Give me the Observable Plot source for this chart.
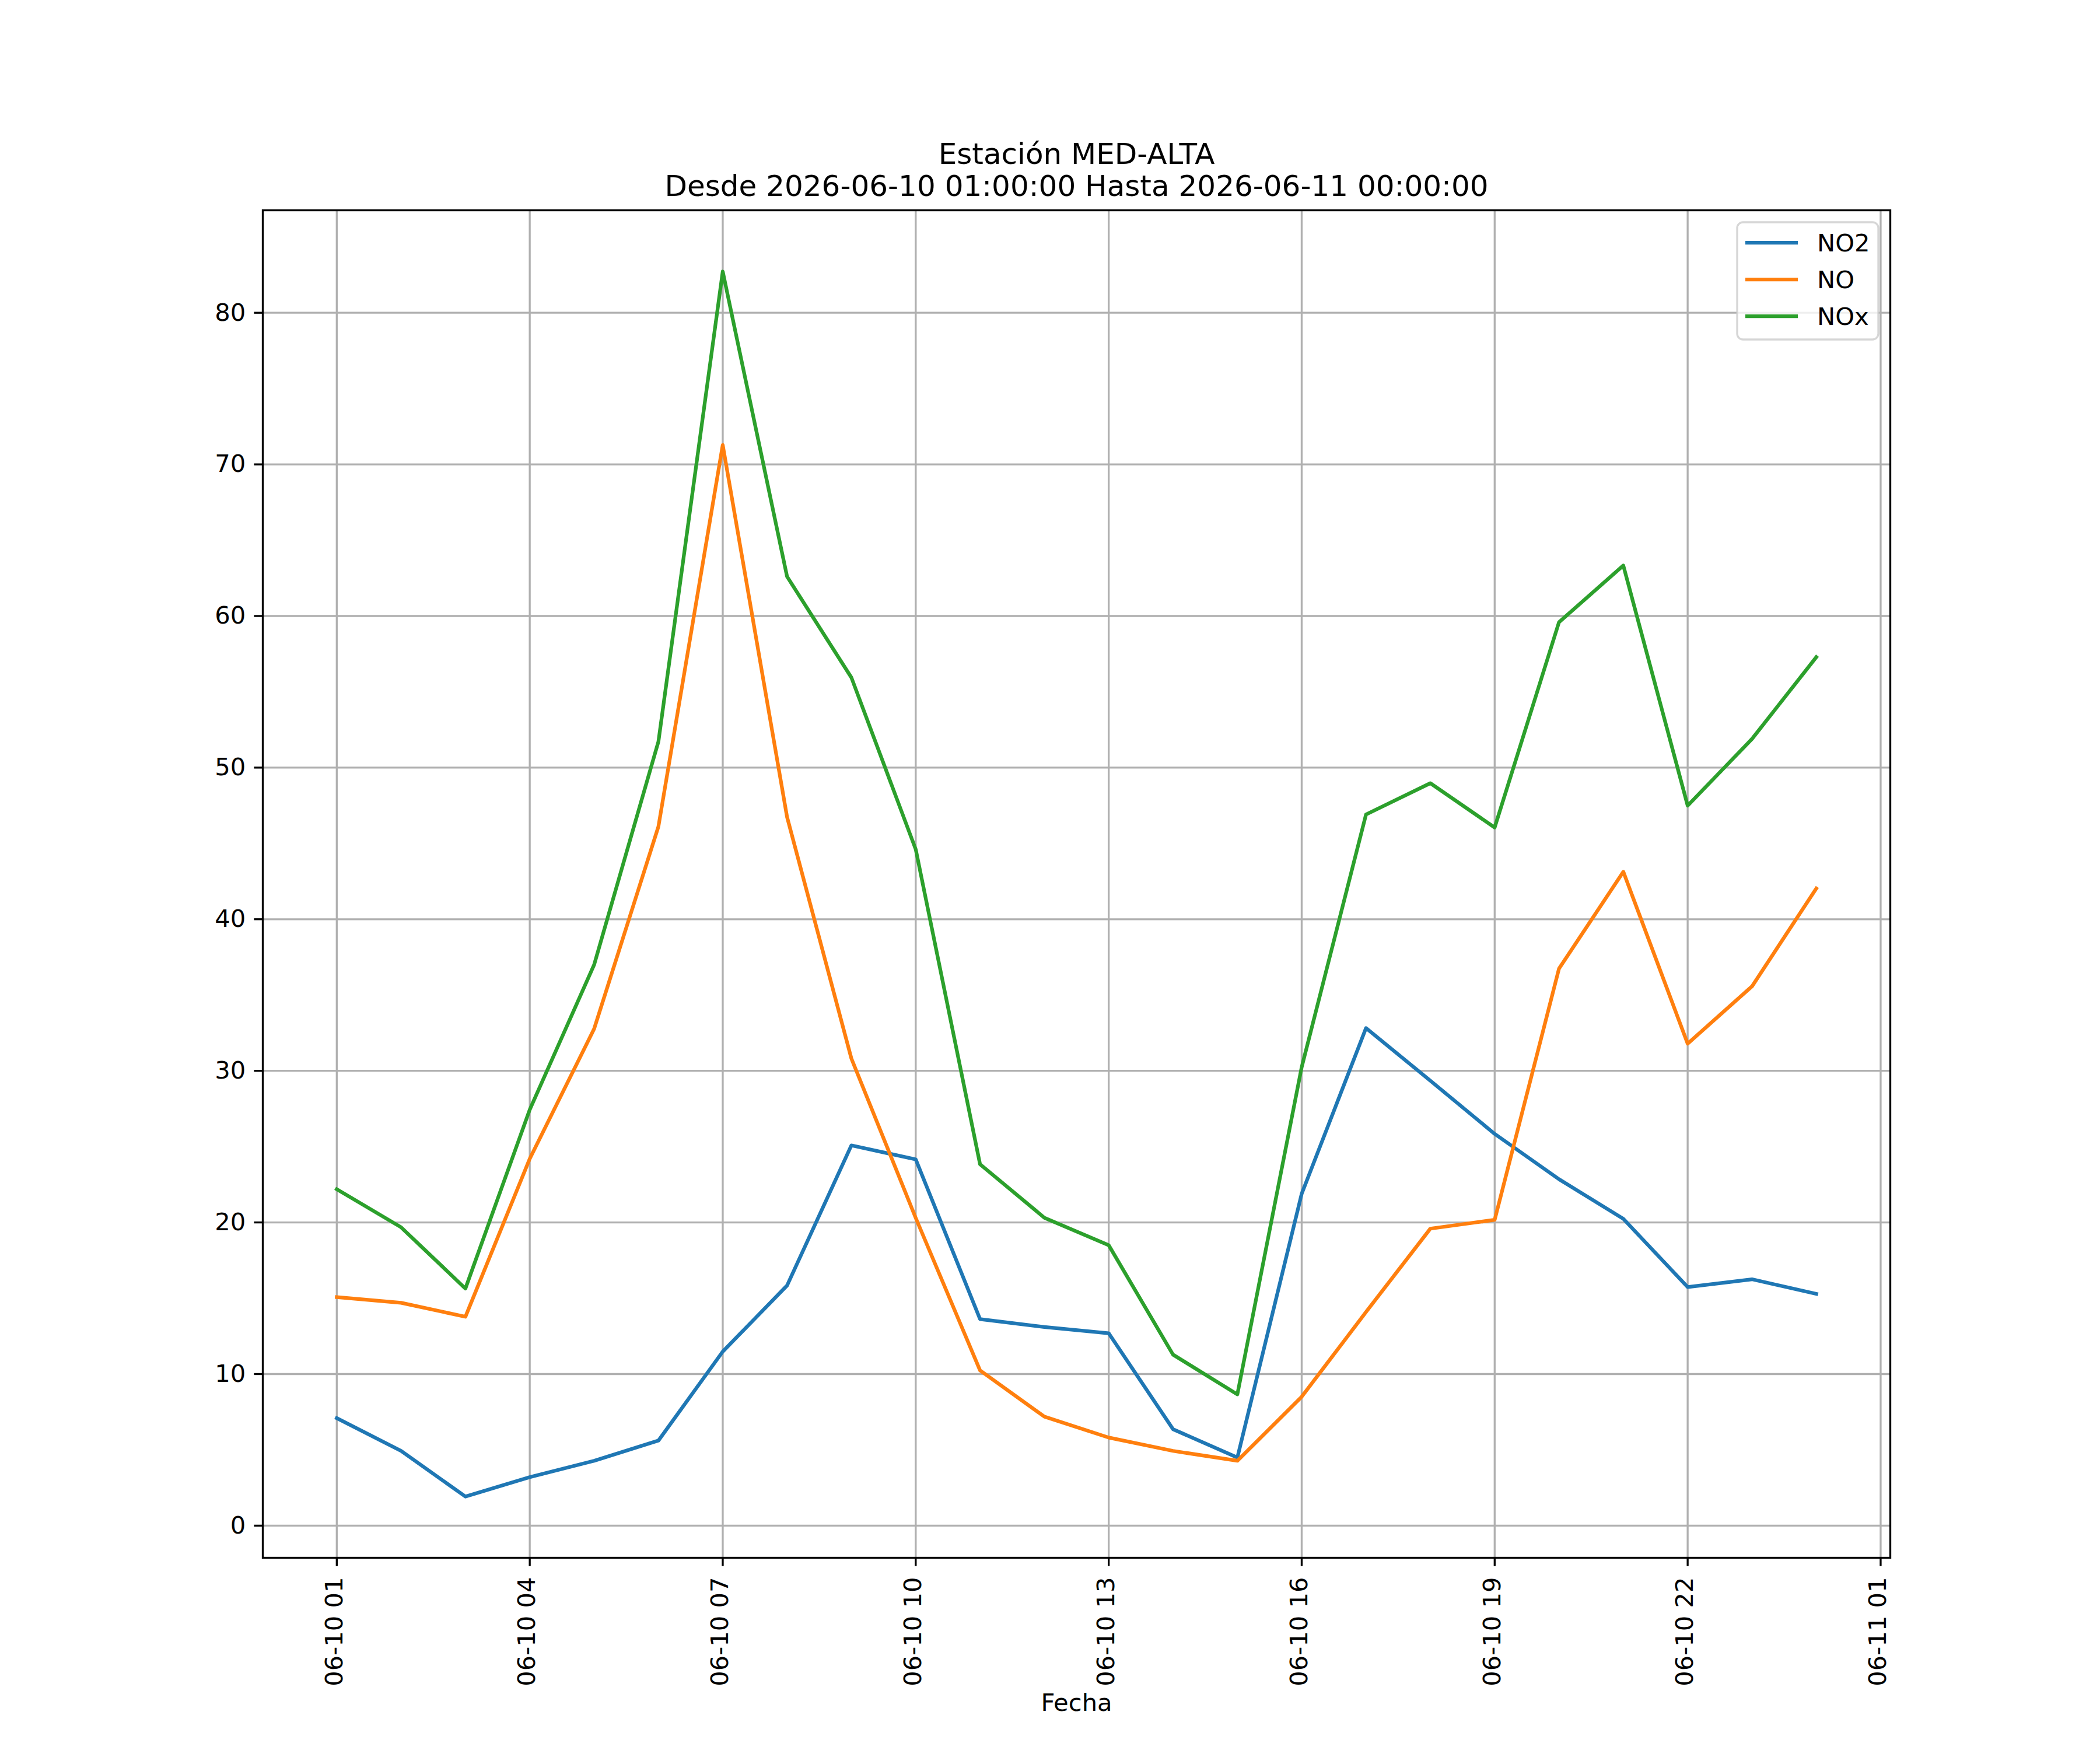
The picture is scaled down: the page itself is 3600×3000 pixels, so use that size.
<!DOCTYPE html>
<html>
<head>
<meta charset="utf-8">
<script src="https://cdn.jsdelivr.net/npm/d3@7"></script>
<script src="https://cdn.jsdelivr.net/npm/@observablehq/plot@0.6"></script>
<style>
html, body { margin: 0; padding: 0; background: #fff; }
#chart svg { display: block; }
</style>
</head>
<body>
<div id="chart"></div>
<script>
(function () {
// ---- data ----
const times = [
  "2026-06-10 01:00", "2026-06-10 02:00", "2026-06-10 03:00", "2026-06-10 04:00",
  "2026-06-10 05:00", "2026-06-10 06:00", "2026-06-10 07:00", "2026-06-10 08:00",
  "2026-06-10 09:00", "2026-06-10 10:00", "2026-06-10 11:00", "2026-06-10 12:00",
  "2026-06-10 13:00", "2026-06-10 14:00", "2026-06-10 15:00", "2026-06-10 16:00",
  "2026-06-10 17:00", "2026-06-10 18:00", "2026-06-10 19:00", "2026-06-10 20:00",
  "2026-06-10 21:00", "2026-06-10 22:00", "2026-06-10 23:00", "2026-06-11 00:00"
];
const no2 = [7.09, 4.93, 1.92, 3.2, 4.28, 5.61, 11.48, 15.84, 25.08, 24.16, 13.62, 13.1,
             12.69, 6.36, 4.49, 21.89, 32.82, 29.35, 25.84, 22.85, 20.24, 15.74, 16.25, 15.29];
const no  = [15.07, 14.7, 13.78, 24.2, 32.76, 46.11, 71.28, 46.74, 30.81, 20.3, 10.24, 7.19,
             5.81, 4.93, 4.28, 8.5, 14.09, 19.59, 20.17, 36.74, 43.13, 31.79, 35.57, 42.03];
const nox = [22.19, 19.68, 15.64, 27.44, 36.99, 51.71, 82.72, 62.6, 55.94, 44.61, 23.84, 20.31,
             18.5, 11.28, 8.66, 30.24, 46.91, 48.97, 46.05, 59.59, 63.33, 47.49, 51.89, 57.29];

const seriesNames = ["NO2", "NO", "NOx"];
const seriesColors = ["#1f77b4", "#ff7f0e", "#2ca02c"];

const xTickTimes = [
  "2026-06-10 01:00", "2026-06-10 04:00", "2026-06-10 07:00", "2026-06-10 10:00",
  "2026-06-10 13:00", "2026-06-10 16:00", "2026-06-10 19:00", "2026-06-10 22:00",
  "2026-06-11 01:00"
];
const yTicks = [0, 10, 20, 30, 40, 50, 60, 70, 80];

const titleText = "Estación MED-ALTA";
const subtitleText = "Desde 2026-06-10 01:00:00 Hasta 2026-06-11 00:00:00";
const xLabelText = "Fecha";

// ---- build ----
const parse = d3.utcParse("%Y-%m-%d %H:%M");
const fmt = d3.utcFormat("%m-%d %H");
const dates = times.map(parse);
const seriesValues = [no2, no, nox];
const rows = [];
seriesNames.forEach((name, s) => {
  dates.forEach((d, i) => rows.push({date: d, value: seriesValues[s][i], series: name}));
});
const xTicks = xTickTimes.map(parse);

// matplotlib-like 5% margins
const allY = no2.concat(no, nox);
const yMin = d3.min(allY), yMax = d3.max(allY);
const yPad = 0.05 * (yMax - yMin);
const t0 = +dates[0], t1 = +dates[dates.length - 1];
const tPad = 0.05 * (t1 - t0);

const FS = 41.67;
const LW = 3.33;

const lineMarks = seriesNames.map((name, s) =>
  Plot.line(rows.filter(r => r.series === name), {
    x: "date", y: "value", stroke: seriesColors[s], strokeWidth: 6.25,
    strokeLinejoin: "round", strokeLinecap: "square"
  })
);

const W = 3600, H = 3000, ML = 450, MR = 360, MT = 360, MB = 330;

const chart = Plot.plot({
  width: W, height: H,
  marginLeft: ML, marginRight: MR, marginTop: MT, marginBottom: MB,
  style: {fontFamily: "'DejaVu Sans', sans-serif", fontSize: FS + "px", color: "black", background: "white"},
  x: {type: "utc", domain: [new Date(t0 - tPad), new Date(t1 + tPad)]},
  y: {domain: [yMin - yPad, yMax + yPad]},
  marks: [
    Plot.gridX(xTicks, {stroke: "#b0b0b0", strokeOpacity: 1, strokeWidth: LW}),
    Plot.gridY(yTicks, {stroke: "#b0b0b0", strokeOpacity: 1, strokeWidth: LW}),
    ...lineMarks,
    Plot.frame({stroke: "black", strokeWidth: LW}),
    Plot.axisY(yTicks, {tickSize: 14.6, tickPadding: 14.6, strokeWidth: LW, label: null,
      fontSize: FS, tickFormat: d => String(d), fill: "black", stroke: "black"}),
    Plot.axisX(xTicks, {tickSize: 14.6, strokeWidth: LW, label: null, tickFormat: () => "", stroke: "black"}),
    Plot.text(xTicks, {x: d => d, text: d => fmt(d), frameAnchor: "bottom", rotate: -90,
      textAnchor: "end", lineAnchor: "middle", dy: 33, dx: -4, fontSize: FS, fill: "black"}),
    Plot.text([titleText], {frameAnchor: "top", lineAnchor: "bottom", dy: -80, fontSize: 50, fill: "black"}),
    Plot.text([subtitleText], {frameAnchor: "top", lineAnchor: "bottom", dy: -25, fontSize: 50, fill: "black"}),
    Plot.text([xLabelText], {frameAnchor: "bottom", lineAnchor: "bottom", dy: 262, fontSize: FS, fill: "black"})
  ]
});

// ---- legend (matplotlib style, upper right) ----
const svg = d3.select(chart);
const frameRight = W - MR, frameTop = MT;
const lg = svg.append("g").attr("class", "legend").attr("text-anchor", "start");
lg.append("rect")
  .attr("x", frameRight - 262).attr("y", frameTop + 21)
  .attr("width", 242).attr("height", 201).attr("rx", 10)
  .attr("fill", "white").attr("fill-opacity", 0.8)
  .attr("stroke", "#cccccc").attr("stroke-opacity", 0.8).attr("stroke-width", LW);
seriesNames.forEach((name, i) => {
  const cy = frameTop + 56 + i * 63;
  lg.append("line")
    .attr("x1", frameRight - 248).attr("x2", frameRight - 158)
    .attr("y1", cy).attr("y2", cy)
    .attr("stroke", seriesColors[i]).attr("stroke-width", 6.25).attr("stroke-linecap", "butt");
  lg.append("text")
    .attr("x", frameRight - 125).attr("y", cy + 14.5)
    .attr("text-anchor", "start")
    .attr("font-size", FS).attr("fill", "black")
    .attr("font-family", "'DejaVu Sans', sans-serif")
    .text(name);
});

document.getElementById("chart").appendChild(chart);
})();
</script>
</body>
</html>
